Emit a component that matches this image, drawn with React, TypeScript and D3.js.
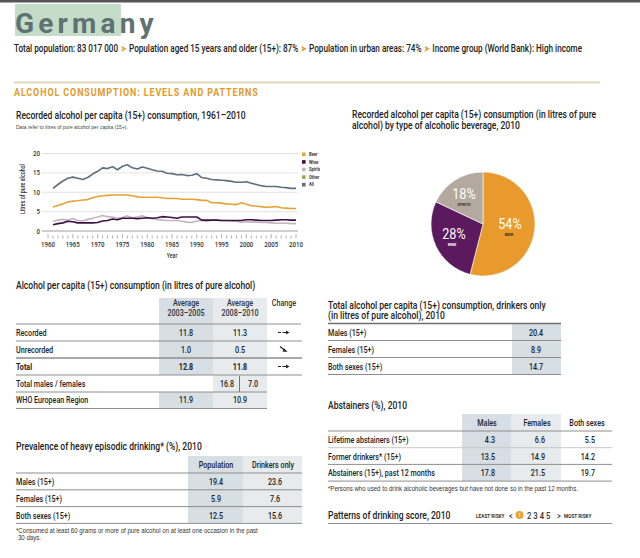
import React from "react";
import * as d3 from "d3";

// ---------- DATA ----------
const years = d3.range(1961, 2011);
const beer = [6.2,6.6,7.0,7.5,7.7,7.8,8.0,8.1,8.6,8.9,9.1,9.2,9.3,9.3,9.3,9.3,9.1,8.8,8.7,8.7,8.7,8.7,8.6,8.4,8.4,8.4,8.2,8.2,8.2,8.1,7.9,7.9,7.3,7.3,7.2,7.0,6.9,6.8,7.3,6.9,6.5,6.4,6.3,6.1,6.2,6.3,6.0,5.9,5.8,5.8];
const wine = [1.6,1.9,2.1,2.5,2.4,2.1,2.1,2.1,2.1,2.2,2.6,2.7,3.1,2.9,3.3,3.3,3.3,3.2,3.3,3.4,3.3,3.4,3.7,3.6,3.5,3.3,3.6,3.6,3.6,3.6,2.8,2.8,2.8,2.8,2.7,2.7,2.7,2.7,2.7,2.9,2.9,2.8,2.7,2.7,2.7,2.8,2.9,2.9,2.8,2.8];
const spirits = [2.5,2.8,3.0,2.8,3.2,2.7,2.6,3.0,3.3,3.6,4.0,3.7,3.6,3.3,3.5,3.9,3.4,3.6,3.9,3.5,3.2,3.0,2.8,2.7,2.7,2.7,2.5,2.3,2.2,2.6,2.7,2.5,2.8,2.8,2.7,2.7,2.6,2.5,2.2,2.4,2.3,2.3,2.2,2.2,2.1,2.0,2.0,2.0,1.9,1.9];
const all = [11.0,12.0,12.9,13.6,13.9,13.6,13.3,13.8,14.7,15.4,16.3,16.1,16.6,15.8,16.7,17.1,16.3,16.0,16.5,16.2,15.8,15.5,15.4,14.9,14.8,14.5,14.6,14.3,14.4,14.8,13.8,13.6,13.3,13.2,13.1,13.0,12.8,12.6,12.6,12.7,12.3,12.0,11.7,11.5,11.5,11.5,11.3,11.2,11.0,11.0];
const yTicks = [0, 5, 10, 15, 20];
const xTickLabels = [1960, 1965, 1970, 1975, 1980, 1985, 1990, 1995, 2000, 2005, 2010];
const legendNames = ["Beer", "Wine", "Spirits", "Other", "All"];
const legendColors = ["#e9a136", "#3b1043", "#c3b5c0", "#8fb04a", "#5d6f7e"];

const pieNames = ["BEER", "WINE", "SPIRITS"];
const pieValues = [54, 28, 18];
const pieColors = ["#e99a2c", "#5b1a5d", "#b3a99e"];

const perCapitaLabels = ["Recorded", "Unrecorded", "Total"];
const avg0305 = ["11.8", "1.0", "12.8"];
const avg0810 = ["11.3", "0.5", "11.8"];
const changeDir = ["flat", "down", "flat"];
const malesFemales = ["16.8", "7.0"];
const whoRegion = ["11.9", "10.9"];

const sexLabels = ["Males (15+)", "Females (15+)", "Both sexes (15+)"];
const drinkersOnly = ["20.4", "8.9", "14.7"];
const heavyPop = ["19.4", "5.9", "12.5"];
const heavyDrinkers = ["23.6", "7.6", "15.6"];

const abstLabels = ["Lifetime abstainers (15+)", "Former drinkers* (15+)", "Abstainers (15+), past 12 months"];
const abstMales = ["4.3", "13.5", "17.8"];
const abstFemales = ["6.6", "14.9", "21.5"];
const abstBoth = ["5.5", "14.2", "19.7"];

// ---------- HELPERS ----------
const FONT = "Roboto, 'Liberation Sans', sans-serif";
const PLAIN = "'Liberation Sans', Arial, sans-serif";
const SX = 0.815;

function T({ x, y, s = 9, sx = SX, anchor = "start", w = 500, fill = "#222", ls, children, ff }: any) {
  return (
    <text
      transform={`translate(${x},${y}) scale(${sx},1)`}
      fontSize={s}
      textAnchor={anchor}
      fontWeight={w}
      fill={fill}
      letterSpacing={ls}
      fontFamily={ff || FONT}
    >
      {children}
    </text>
  );
}

function T2({ x, y, s = 10.3, gap = 10.9, lines }: any) {
  return (
    <text transform={`translate(${x},${y}) scale(${SX * 1.02},1)`} fontSize={s} fontWeight={500} fill="#222" fontFamily={FONT}>
      {lines.map((l: string, i: number) => (
        <tspan key={i} x={0} y={i * gap}>{l}</tspan>
      ))}
    </text>
  );
}

function HLine({ x1, x2, y, c = "#9a9a9a", sw = 1 }: any) {
  return <line x1={x1} x2={x2} y1={y} y2={y} stroke={c} strokeWidth={sw} />;
}

const ORANGE = "#e8a23a";
const ROWC = "#8e8e8e";
const SH1 = "#d7dee4";
const SH2 = "#e7ebee";

function Footnote() {
  return (
    <text transform="translate(16,532.5) scale(0.97,1)" fontSize={6.3} fontWeight={400} fill="#333" fontFamily={PLAIN}>
      <tspan x={0} y={0}>*Consumed at least 60 grams or more of pure alcohol on at least one occasion in the past</tspan>
      <tspan x={2} y={7.5}>30 days.</tspan>
    </text>
  );
}

export default function App() {
  const x = d3.scaleLinear().domain([1960, 2010]).range([48, 296]);
  const y = d3.scaleLinear().domain([0, 20]).range([231, 153.5]);
  const line = d3
    .line<number>()
    .x((_, i) => x(years[i]))
    .y((d) => y(d));
  const series = [
    { v: spirits, c: legendColors[2] },
    { v: wine, c: legendColors[1] },
    { v: beer, c: legendColors[0] },
    { v: all, c: legendColors[4] },
  ];
  const allYears = d3.range(1960, 2011);

  const pie = d3.pie<number>().sort(null).value((d) => d);
  const arcs = pie(pieValues);
  const R = 52;
  const arc = d3.arc<any>().innerRadius(0).outerRadius(R);
  const pcx = 483, pcy = 224;
  const pieLabelPos = [
    { px: 510, py: 229, lx: 509, ly: 236, lc: "#3a2a10" },
    { px: 454, py: 238.5, lx: 452, ly: 245.5, lc: "#ffffff" },
    { px: 464, py: 198.5, lx: 464, ly: 205.5, lc: "#333" },
  ];

  const t1RowY = [324, 341, 358, 375];

  return (
    <svg width={640} height={558} style={{ position: "absolute", left: 0, top: 0, display: "block", fontFamily: FONT }}>
      <defs>
        <clipPath id="legclip">
          <rect x={290} y={140} width={30} height={60} />
        </clipPath>
      </defs>
      <rect x={0} y={0} width={640} height={2.5} fill="#555" />

      {/* Header */}
      <rect x={15} y={4} width={106} height={32} fill="#c4dcc8" />
      <text x={15} y={33} fontSize={28} fontWeight={700} fill="#5e7272" letterSpacing={4.2} fontFamily={FONT}>
        Germany
      </text>
      <text transform={`translate(14,52) scale(${SX},1)`} fontSize={10} fontWeight={500} fill="#222" fontFamily={FONT}>
        <tspan>Total population: 83 017 000 </tspan>
        <tspan fill={ORANGE} fontFamily="'DejaVu Sans'">➤</tspan>
        <tspan> Population aged 15 years and older (15+): 87% </tspan>
        <tspan fill={ORANGE} fontFamily="'DejaVu Sans'">➤</tspan>
        <tspan> Population in urban areas: 74% </tspan>
        <tspan fill={ORANGE} fontFamily="'DejaVu Sans'">➤</tspan>
        <tspan> Income group (World Bank): High income</tspan>
      </text>

      <HLine x1={14} x2={600} y={82.5} c="#e3d8bd" sw={2} />
      <T x={14} y={96} s={11} w={700} fill="#e39a2d" ls={1.1}>ALCOHOL CONSUMPTION: LEVELS AND PATTERNS</T>

      {/* Line chart */}
      <T x={16} y={118.5} s={10.5}>Recorded alcohol per capita (15+) consumption, 1961–2010</T>
      <T x={16} y={128.5} s={5} sx={1} w={400} fill="#444" ff={PLAIN}>Data refer to litres of pure alcohol per capita (15+).</T>
      {yTicks.slice(1).map((t) => (
        <HLine key={t} x1={42} x2={298} y={y(t)} c="#dcdcdc" sw={0.8} />
      ))}
      <HLine x1={42} x2={298} y={y(0)} c="#888" sw={0.8} />
      {yTicks.map((t) => (
        <T key={t} x={40} y={y(t) + 2.6} s={7.5} anchor="end" fill="#333">{t}</T>
      ))}
      {allYears.map((yr) => (
        <line key={yr} x1={x(yr)} x2={x(yr)} y1={yr % 5 === 0 ? 234 : 235.5} y2={238.5} stroke="#666" strokeWidth={0.5} />
      ))}
      {xTickLabels.map((t) => (
        <T key={t} x={x(t)} y={246.5} s={7.5} anchor="middle" fill="#333">{t}</T>
      ))}
      <T x={172} y={258} s={6.5} anchor="middle" fill="#333">Year</T>
      <text transform={`translate(25,189) rotate(-90) scale(${SX},1)`} fontSize={6.5} fontWeight={500} textAnchor="middle" fill="#333" fontFamily={FONT}>
        Litres of pure alcohol
      </text>
      {series.map((s, i) => (
        <path key={i} d={line(s.v) || ""} fill="none" stroke={s.c} strokeWidth={1.6} strokeLinejoin="round" />
      ))}
      <g clipPath="url(#legclip)">
        {legendNames.map((n, i) => (
          <g key={n}>
            <rect x={302} y={152.5 + i * 7.6} width={3.6} height={3.6} fill={legendColors[i]} />
            <T x={309} y={156 + i * 7.6} s={5} w={700} fill="#333">{n}</T>
          </g>
        ))}
      </g>

      {/* Pie chart */}
      <T2 x={352} y={118} lines={["Recorded alcohol per capita (15+) consumption (in litres of pure", "alcohol) by type of alcoholic beverage, 2010"]} />
      <g transform={`translate(${pcx},${pcy})`}>
        {arcs.map((a, i) => (
          <path key={i} d={arc(a) || ""} fill={pieColors[i]} stroke="#fff" strokeWidth={0.6} />
        ))}
      </g>
      {arcs.map((a, i) => (
        <g key={i}>
          <T x={pieLabelPos[i].px} y={pieLabelPos[i].py} s={15.5} w={400} anchor="middle" fill="#fff">{pieValues[i]}%</T>
          <T x={pieLabelPos[i].lx} y={pieLabelPos[i].ly} s={4.3} w={700} anchor="middle" fill={pieLabelPos[i].lc}>{pieNames[i]}</T>
        </g>
      ))}

      {/* Table 1 */}
      <T x={16} y={289} s={10.5}>Alcohol per capita (15+) consumption (in litres of pure alcohol)</T>
      <rect x={159} y={298} width={54} height={77} fill={SH1} />
      <rect x={159} y={392} width={54} height={16.5} fill={SH1} />
      <rect x={213} y={298} width={54} height={110.5} fill={SH2} />
      <T x={186} y={306} s={8.8} anchor="middle" fill="#333">Average</T>
      <T x={186} y={316} s={8.8} anchor="middle" fill="#333">2003–2005</T>
      <T x={240} y={306} s={8.8} anchor="middle" fill="#333">Average</T>
      <T x={240} y={316} s={8.8} anchor="middle" fill="#333">2008–2010</T>
      <T x={284} y={306} s={8.8} anchor="middle" fill="#333">Change</T>
      <HLine x1={16} x2={301} y={324} c={ROWC} sw={1} />
      {perCapitaLabels.map((l, i) => {
        const base = t1RowY[i] + 11.5;
        const cy = t1RowY[i] + 8.5;
        const bold = i === 2 ? 700 : 500;
        return (
          <g key={l}>
            <T x={16} y={base} s={8.8} w={bold}>{l}</T>
            <T x={186} y={base} s={8.8} w={bold} anchor="middle">{avg0305[i]}</T>
            <T x={240} y={base} s={8.8} w={bold} anchor="middle">{avg0810[i]}</T>
            {changeDir[i] === "flat" ? (
              <g>
                <line x1={278} x2={281} y1={cy} y2={cy} stroke="#222" strokeWidth={1} />
                <line x1={282.5} x2={286} y1={cy} y2={cy} stroke="#222" strokeWidth={1} />
                <path d={`M286,${cy - 2} L289.5,${cy} L286,${cy + 2} Z`} fill="#222" />
              </g>
            ) : (
              <g>
                <line x1={280} x2={285} y1={cy - 3} y2={cy + 0.8} stroke="#222" strokeWidth={1.1} />
                <path d={`M284,${cy - 1.2} L287.5,${cy + 2.5} L282.5,${cy + 2} Z`} fill="#222" />
              </g>
            )}
            <HLine x1={16} x2={302} y={t1RowY[i + 1]} c={ROWC} sw={i === 1 ? 1.6 : 1} />
          </g>
        );
      })}
      <T x={16} y={386.5} s={8.8}>Total males / females</T>
      <T x={227} y={386.5} s={8.8} anchor="middle">{malesFemales[0]}</T>
      <line x1={239.5} x2={239.5} y1={376} y2={392} stroke="#555" strokeWidth={0.8} />
      <T x={253} y={386.5} s={8.8} anchor="middle">{malesFemales[1]}</T>
      <HLine x1={16} x2={267} y={392} c={ROWC} sw={1} />
      <T x={16} y={403} s={8.8}>WHO European Region</T>
      <T x={186} y={403} s={8.8} anchor="middle">{whoRegion[0]}</T>
      <T x={240} y={403} s={8.8} anchor="middle">{whoRegion[1]}</T>
      <HLine x1={16} x2={267} y={408.5} c={ROWC} sw={1} />

      {/* Table 2: drinkers only */}
      <T2 x={328} y={308.5} lines={["Total alcohol per capita (15+) consumption, drinkers only", "(in litres of pure alcohol), 2010"]} />
      <rect x={512} y={323.5} width={49} height={51} fill={SH1} />
      <HLine x1={328} x2={561} y={323.5} c="#6f6f6f" sw={1.5} />
      {sexLabels.map((l, i) => {
        const top = 323.5 + i * 17;
        return (
          <g key={l}>
            <T x={328} y={top + 12} s={8.8}>{l}</T>
            <T x={536} y={top + 12} s={8.8} anchor="middle">{drinkersOnly[i]}</T>
            <HLine x1={328} x2={561} y={top + 17} c={ROWC} sw={1} />
          </g>
        );
      })}

      {/* Abstainers */}
      <T x={328} y={409} s={10.5}>Abstainers (%), 2010</T>
      <rect x={462} y={414} width={49} height={67} fill={SH1} />
      <rect x={511} y={414} width={50} height={67} fill={SH2} />
      <T x={487} y={425.5} s={8.8} anchor="middle">Males</T>
      <T x={537} y={425.5} s={8.8} anchor="middle">Females</T>
      <T x={587} y={425.5} s={8.8} anchor="middle">Both sexes</T>
      <HLine x1={328} x2={612} y={431} c={ROWC} sw={1} />
      {abstLabels.map((l, i) => {
        const top = 431 + i * 16.7;
        return (
          <g key={l}>
            <T x={328} y={top + 12} s={8.8}>{l}</T>
            <T x={495} y={top + 12} s={8.8} anchor="end">{abstMales[i]}</T>
            <T x={545} y={top + 12} s={8.8} anchor="end">{abstFemales[i]}</T>
            <T x={595} y={top + 12} s={8.8} anchor="end">{abstBoth[i]}</T>
            <HLine x1={328} x2={612} y={top + 16.7} c={i === 0 ? "#c8c8c8" : ROWC} sw={1} />
          </g>
        );
      })}
      <T x={328} y={491} s={6.3} sx={0.97} w={400} fill="#333" ff={PLAIN}>*Persons who used to drink alcoholic beverages but have not done so in the past 12 months.</T>
      <T x={328} y={518.5} s={10.5}>Patterns of drinking score, 2010</T>
      <HLine x1={328} x2={612} y={523.5} c={ROWC} sw={1} />
      <T x={476} y={517.5} s={5.8} w={700} fill="#333">LEAST RISKY</T>
      <T x={509} y={518.5} s={9} fill="#333">&lt;</T>
      <circle cx={519.5} cy={515} r={4} fill={ORANGE} />
      <T x={519.5} y={517} s={5.5} anchor="middle" fill="#fff">1</T>
      <T x={527} y={518.5} s={9.5} fill="#333">2 3 4 5</T>
      <T x={557} y={518.5} s={9} fill="#333">&gt;</T>
      <T x={564} y={517.5} s={5.8} w={700} fill="#333">MOST RISKY</T>

      {/* Heavy episodic */}
      <T x={16} y={450} s={10.5}>Prevalence of heavy episodic drinking* (%), 2010</T>
      <rect x={188} y={456} width={55} height={67.5} fill={SH1} />
      <rect x={243} y={456} width={59} height={67.5} fill={SH2} />
      <T x={216} y={468} s={8.8} anchor="middle">Population</T>
      <T x={273} y={468} s={8.8} anchor="middle">Drinkers only</T>
      <HLine x1={16} x2={302} y={473} c={ROWC} sw={1} />
      {sexLabels.map((l, i) => {
        const top = 473 + i * 16.8;
        return (
          <g key={l}>
            <T x={16} y={top + 12} s={8.8}>{l}</T>
            <T x={216} y={top + 12} s={8.8} anchor="middle">{heavyPop[i]}</T>
            <T x={275} y={top + 12} s={8.8} anchor="middle">{heavyDrinkers[i]}</T>
            <HLine x1={16} x2={302} y={top + 16.8} c={ROWC} sw={1} />
          </g>
        );
      })}
      <Footnote />
    </svg>
  );
}
